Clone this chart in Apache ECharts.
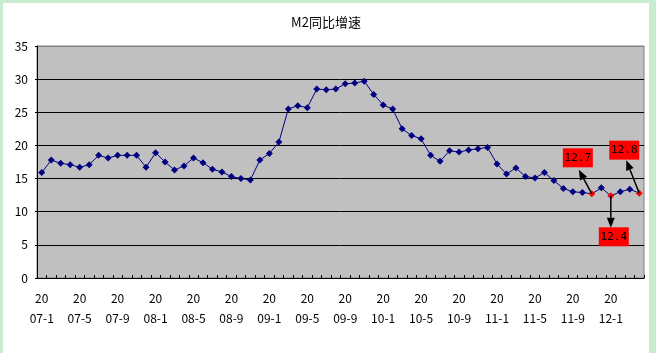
<!DOCTYPE html>
<html>
<head>
<meta charset="utf-8">
<script src="https://cdn.jsdelivr.net/npm/echarts@6/dist/echarts.min.js"></script>
<style>
  html, body { margin: 0; padding: 0; background: #c8ecd0; width: 656px; height: 353px; overflow: hidden; }
  #m2 { position: absolute; left: 3px; top: 3px; width: 646px; height: 350px; background: #fff; }
</style>
</head>
<body>
<div id="m2"></div>
<script>
// 月份 2007-1 ~ 2012-4
const months = [];
for (let y = 2007; y <= 2012; y++) {
  for (let m = 1; m <= 12; m++) {
    if (y === 2012 && m > 4) break;
    months.push(y + '-' + m);
  }
}

// M2同比增速 (%)
const m2Values = [
  15.9, 17.8, 17.3, 17.1, 16.7, 17.1, 18.5, 18.1, 18.5, 18.5, 18.5, 16.7,
  18.9, 17.5, 16.3, 16.9, 18.1, 17.4, 16.4, 16.0, 15.3, 15.0, 14.8, 17.8,
  18.8, 20.5, 25.5, 26.0, 25.7, 28.5, 28.4, 28.5, 29.3, 29.4, 29.7, 27.7,
  26.1, 25.5, 22.5, 21.5, 21.0, 18.5, 17.6, 19.2, 19.0, 19.3, 19.5, 19.7,
  17.2, 15.7, 16.6, 15.3, 15.1, 15.9, 14.7, 13.5, 13.0, 12.9, 12.7, 13.6,
  12.4, 13.0, 13.4, 12.8
];

// 标注点
const markedIdx = [58, 60, 63];
const markedText = ['12.7', '12.4', '12.8'];

const yTicks = [0, 5, 10, 15, 20, 25, 30, 35];

// 标注框相对位置 (像素)
const notePos = [
  { box: [-14, -36], tip: [-13, -24] },
  { box: [3, 41], tip: [0, 32] },
  { box: [-15, -43], tip: [-13, -33] }
];

const chart = echarts.init(document.getElementById('m2'));
const font = '"Noto Sans CJK SC", "DejaVu Sans", sans-serif';

const seriesData = m2Values.map((v, i) => {
  if (markedIdx.indexOf(i) >= 0) {
    return { value: v, itemStyle: { color: '#ff0000' } };
  }
  return v;
});

const option = {
  animation: false,
  title: {
    text: 'M2同比增速',
    left: 'center',
    top: 8,
    textStyle: { fontSize: 13, fontWeight: 'normal', color: '#000', fontFamily: font }
  },
  grid: {
    left: 34,
    right: 5,
    top: 43,
    bottom: 75,
    show: true,
    backgroundColor: '#c0c0c0',
    borderColor: '#808080',
    borderWidth: 1
  },
  xAxis: {
    type: 'category',
    data: months,
    boundaryGap: true,
    axisLine: { lineStyle: { color: '#000', width: 1 } },
    axisTick: { show: true, inside: true, length: 3, interval: 0, lineStyle: { color: '#000' } },
    axisLabel: {
      interval: 3,
      margin: 10,
      color: '#000',
      fontSize: 12,
      lineHeight: 20,
      fontFamily: font,
      formatter: v => v.slice(0, 2) + '\n' + v.slice(2)
    },
    splitLine: { show: false }
  },
  yAxis: {
    type: 'value',
    min: yTicks[0],
    max: yTicks[yTicks.length - 1],
    interval: 5,
    axisLine: { show: true, lineStyle: { color: '#000' } },
    axisTick: { show: true, length: 2, lineStyle: { color: '#000' } },
    axisLabel: { margin: 9, color: '#000', fontSize: 12, fontFamily: font },
    splitLine: {
      show: true,
      lineStyle: { color: ['#000', '#000', '#000', '#000', '#000', '#000', '#000', '#808080'], width: 1 }
    }
  },
  series: [
    {
      type: 'line',
      data: seriesData,
      symbol: 'diamond',
      symbolSize: 7,
      showAllSymbol: true,
      lineStyle: { color: '#000080', width: 1 },
      itemStyle: { color: '#000080' },
      z: 3
    }
  ]
};
chart.setOption(option);

// 箭头和标注框
const graphics = [];
markedIdx.forEach((idx, k) => {
  const p = chart.convertToPixel({ seriesIndex: 0 }, [idx, m2Values[idx]]);
  const pos = notePos[k];
  const tx = p[0] + pos.tip[0], ty = p[1] + pos.tip[1];
  const dx = tx - p[0], dy = ty - p[1];
  const len = Math.sqrt(dx * dx + dy * dy);
  const ux = dx / len, uy = dy / len;
  const nx = -uy, ny = ux;
  const hl = 10, hw = 4;
  const bx = tx - ux * hl, by = ty - uy * hl;
  graphics.push({
    type: 'line',
    z: 10,
    shape: { x1: p[0], y1: p[1], x2: bx, y2: by },
    style: { stroke: '#000', lineWidth: 1.5 }
  });
  graphics.push({
    type: 'polygon',
    z: 10,
    shape: { points: [[tx, ty], [bx + nx * hw, by + ny * hw], [bx - nx * hw, by - ny * hw]] },
    style: { fill: '#000' }
  });
  const cx = p[0] + pos.box[0], cy = p[1] + pos.box[1];
  graphics.push({
    type: 'rect',
    z: 11,
    shape: { x: cx - 15, y: cy - 9.5, width: 30, height: 19 },
    style: { fill: '#ff0000' }
  });
  graphics.push({
    type: 'text',
    z: 12,
    x: cx,
    y: cy,
    style: {
      text: markedText[k],
      fill: '#000',
      fontSize: 11,
      fontFamily: '"DejaVu Sans Mono", monospace',
      align: 'center',
      verticalAlign: 'middle'
    }
  });
});
chart.setOption({ graphic: graphics });
</script>
</body>
</html>
